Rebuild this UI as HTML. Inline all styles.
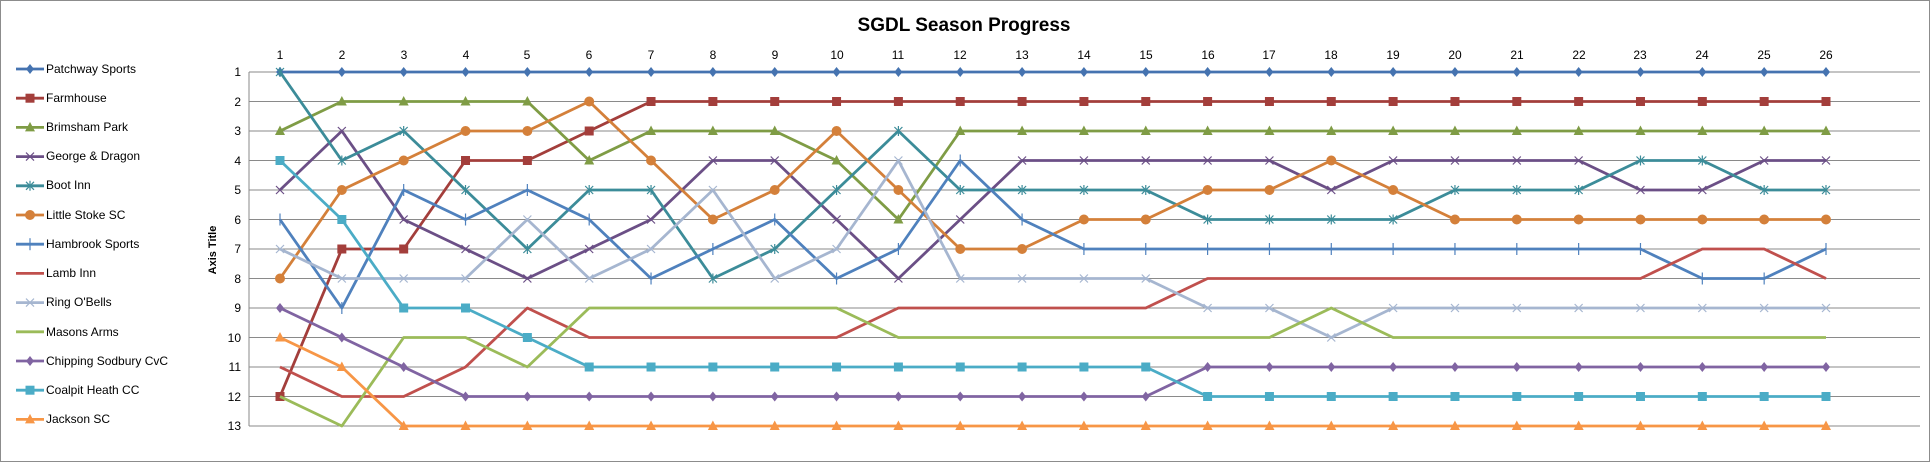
<!DOCTYPE html>
<html><head><meta charset="utf-8"><style>
html,body{margin:0;padding:0;background:#fff}
svg{display:block}
text{font-family:"Liberation Sans",sans-serif}
</style></head><body>
<svg id="s" width="1930" height="462" xmlns="http://www.w3.org/2000/svg">
<rect x="0.5" y="0.5" width="1929" height="461" fill="#fff" stroke="#8c8c8c"/>
<text x="964" y="31" text-anchor="middle" font-size="19" font-weight="bold" fill="#000">SGDL Season Progress</text>
<text transform="translate(216,250) rotate(-90)" text-anchor="middle" font-size="11" font-weight="bold">Axis Title</text>
<g id="grid"></g>
<g font-size="12" fill="#000" text-anchor="middle">
<text x="280" y="59">1</text><text x="342" y="59">2</text><text x="404" y="59">3</text><text x="466" y="59">4</text><text x="527" y="59">5</text><text x="589" y="59">6</text><text x="651" y="59">7</text><text x="713" y="59">8</text><text x="775" y="59">9</text><text x="837" y="59">10</text><text x="898" y="59">11</text><text x="960" y="59">12</text><text x="1022" y="59">13</text><text x="1084" y="59">14</text><text x="1146" y="59">15</text><text x="1208" y="59">16</text><text x="1269" y="59">17</text><text x="1331" y="59">18</text><text x="1393" y="59">19</text><text x="1455" y="59">20</text><text x="1517" y="59">21</text><text x="1579" y="59">22</text><text x="1640" y="59">23</text><text x="1702" y="59">24</text><text x="1764" y="59">25</text><text x="1826" y="59">26</text>
</g>
<g font-size="12" fill="#000" text-anchor="end">
<text x="241" y="76">1</text><text x="241" y="106">2</text><text x="241" y="135">3</text><text x="241" y="165">4</text><text x="241" y="194">5</text><text x="241" y="224">6</text><text x="241" y="253">7</text><text x="241" y="283">8</text><text x="241" y="312">9</text><text x="241" y="342">10</text><text x="241" y="371">11</text><text x="241" y="401">12</text><text x="241" y="430">13</text>
</g>
<g font-size="12" fill="#000">
<text x="46" y="73">Patchway Sports</text>
<text x="46" y="102">Farmhouse</text>
<text x="46" y="131">Brimsham Park</text>
<text x="46" y="160">George &amp; Dragon</text>
<text x="46" y="189">Boot Inn</text>
<text x="46" y="219">Little Stoke SC</text>
<text x="46" y="248">Hambrook Sports</text>
<text x="46" y="277">Lamb Inn</text>
<text x="46" y="306">Ring O'Bells</text>
<text x="46" y="336">Masons Arms</text>
<text x="46" y="365">Chipping Sodbury CvC</text>
<text x="46" y="394">Coalpit Heath CC</text>
<text x="46" y="423">Jackson SC</text>
</g>
<g id="series"></g>
<g id="legend"></g>
</svg>
<script>
var NS="http://www.w3.org/2000/svg";
function el(t,a,p){var e=document.createElementNS(NS,t);for(var k in a)e.setAttribute(k,a[k]);p.appendChild(e);return e;}
var X=function(i){return 280+i*61.84;},Y=function(r){return 72+(r-1)*29.5;};
var g=document.getElementById('grid');
for(var r=1;r<=13;r++)el('line',{x1:249,x2:1920,y1:Y(r),y2:Y(r),stroke:'#8a8a8a','stroke-width':1},g);
el('line',{x1:249,x2:249,y1:72,y2:426,stroke:'#8a8a8a','stroke-width':1},g);
var S=[
['#4573B0','diamond',[1,1,1,1,1,1,1,1,1,1,1,1,1,1,1,1,1,1,1,1,1,1,1,1,1,1]],
['#A33E3B','square',[12,7,7,4,4,3,2,2,2,2,2,2,2,2,2,2,2,2,2,2,2,2,2,2,2,2]],
['#7F9C45','triangle',[3,2,2,2,2,4,3,3,3,4,6,3,3,3,3,3,3,3,3,3,3,3,3,3,3,3]],
['#6B4F86','x',[5,3,6,7,8,7,6,4,4,6,8,6,4,4,4,4,4,5,4,4,4,4,5,5,4,4]],
['#3C8C99','star',[1,4,3,5,7,5,5,8,7,5,3,5,5,5,5,6,6,6,6,5,5,5,4,4,5,5]],
['#D4803A','circle',[8,5,4,3,3,2,4,6,5,3,5,7,7,6,6,5,5,4,5,6,6,6,6,6,6,6]],
['#4F81BD','plus',[6,9,5,6,5,6,8,7,6,8,7,4,6,7,7,7,7,7,7,7,7,7,7,8,8,7]],
['#C0504D','none',[11,12,12,11,9,10,10,10,10,10,9,9,9,9,9,8,8,8,8,8,8,8,8,7,7,8]],
['#A6B6D0','x',[7,8,8,8,6,8,7,5,8,7,4,8,8,8,8,9,9,10,9,9,9,9,9,9,9,9]],
['#9BBB59','none',[12,13,10,10,11,9,9,9,9,9,10,10,10,10,10,10,10,9,10,10,10,10,10,10,10,10]],
['#8064A2','diamond',[9,10,11,12,12,12,12,12,12,12,12,12,12,12,12,11,11,11,11,11,11,11,11,11,11,11]],
['#4BACC6','square',[4,6,9,9,10,11,11,11,11,11,11,11,11,11,11,12,12,12,12,12,12,12,12,12,12,12]],
['#F79646','triangle',[10,11,13,13,13,13,13,13,13,13,13,13,13,13,13,13,13,13,13,13,13,13,13,13,13,13]]
];
function marker(type,x,y,c,p){
 if(type=='diamond')el('path',{d:'M'+x+' '+(y-5)+'L'+(x+4)+' '+y+'L'+x+' '+(y+5)+'L'+(x-4)+' '+y+'Z',fill:c},p);
 else if(type=='square')el('rect',{x:x-4.5,y:y-4.5,width:9,height:9,fill:c},p);
 else if(type=='triangle')el('path',{d:'M'+x+' '+(y-5.5)+'L'+(x+5)+' '+(y+4)+'L'+(x-5)+' '+(y+4)+'Z',fill:c},p);
 else if(type=='circle')el('circle',{cx:x,cy:y,r:5,fill:c},p);
 else if(type=='x')el('path',{d:'M'+(x-4)+' '+(y-4)+'L'+(x+4)+' '+(y+4)+'M'+(x+4)+' '+(y-4)+'L'+(x-4)+' '+(y+4),stroke:c,'stroke-width':1.2,fill:'none'},p);
 else if(type=='star')el('path',{d:'M'+(x-4)+' '+(y-4)+'L'+(x+4)+' '+(y+4)+'M'+(x+4)+' '+(y-4)+'L'+(x-4)+' '+(y+4)+'M'+x+' '+(y-5)+'L'+x+' '+(y+5),stroke:c,'stroke-width':1.2,fill:'none'},p);
 else if(type=='plus')el('path',{d:'M'+x+' '+(y-6)+'L'+x+' '+(y+6),stroke:c,'stroke-width':1.2,fill:'none'},p);
}
var sg=document.getElementById('series'),lg=document.getElementById('legend');
S.forEach(function(s,k){
 var pts=s[2].map(function(r,i){return X(i)+','+Y(r);}).join(' ');
 el('polyline',{points:pts,fill:'none',stroke:s[0],'stroke-width':2.8,'stroke-linejoin':'round'},sg);
 s[2].forEach(function(r,i){marker(s[1],X(i),Y(r),s[0],sg);});
 var ly=69+k*29.2;
 el('line',{x1:16,x2:44,y1:ly,y2:ly,stroke:s[0],'stroke-width':2.8},lg);
 marker(s[1],30,ly,s[0],lg);
});
</script>
</body></html>
